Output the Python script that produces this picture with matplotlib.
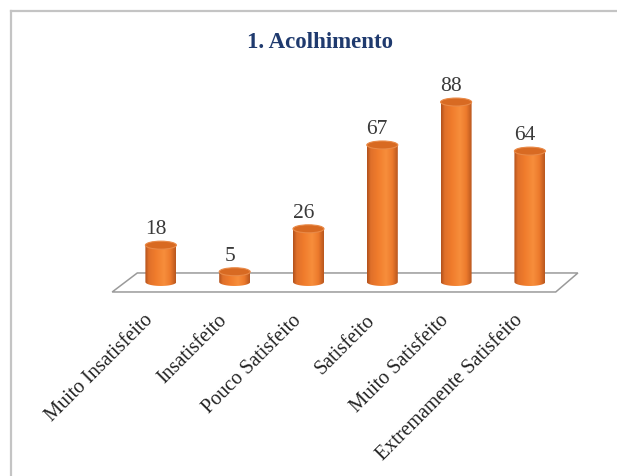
import numpy as np
import matplotlib
matplotlib.use("Agg")
import matplotlib.pyplot as plt
from matplotlib.patches import PathPatch, Ellipse, Polygon
from matplotlib.path import Path
from matplotlib.colors import LinearSegmentedColormap
from matplotlib.lines import Line2D

# --- data -------------------------------------------------------------
title = "1. Acolhimento"
categories = ["Muito Insatisfeito", "Insatisfeito", "Pouco Satisfeito",
              "Satisfeito", "Muito Satisfeito", "Extremamente Satisfeito"]
values = [18, 5, 26, 67, 88, 64]

# --- figure -----------------------------------------------------------
W, H, DPI = 617, 477, 100
fig = plt.figure(figsize=(W / DPI, H / DPI), dpi=DPI, facecolor="white")
serif = ["Liberation Serif", "DejaVu Serif"]

# axes fill the figure; limits set the spacing of the cylinders
ax = fig.add_axes([0, 0, 1, 1])
ax.set_xlim(-2.18, 6.18)
ax.set_ylim(-94.9, 138.4)
ax.axis("off")

px_y = (138.4 + 94.9) / H          # data units per pixel (vertical)
bar_w = 0.42                        # cylinder diameter in category units
cap_h = 8 * px_y                    # ellipse height of the cylinder ends

# floor of the 3-D plot area
n = len(categories)
floor = Polygon([(-0.32, 4.4), (n - 1 + 0.65, 4.4),
                 (n - 1 + 0.35, -4.9), (-0.66, -4.9)],
                closed=True, facecolor="white", edgecolor="#9a9a9a",
                linewidth=1.1, zorder=1)
ax.add_patch(floor)

# horizontal shading across each cylinder body
body_cmap = LinearSegmentedColormap.from_list(
    "body", [(0.0, "#b0501c"), (0.12, "#e0702a"), (0.35, "#f07c2c"),
             (0.62, "#f78e3c"), (0.82, "#ec7a2c"), (1.0, "#b8561e")])
grad = np.linspace(0, 1, 256)[None, :]

for i, v in enumerate(values):
    x0, x1 = i - bar_w / 2, i + bar_w / 2
    t = np.linspace(np.pi, 2 * np.pi, 60)
    bottom = np.column_stack([i + bar_w / 2 * np.cos(t),
                              cap_h / 2 * np.sin(t)])
    verts = np.vstack([[x0, v], bottom, [x1, v], [x0, v]])
    codes = [Path.MOVETO] + [Path.LINETO] * (len(verts) - 2) + [Path.CLOSEPOLY]
    body = PathPatch(Path(verts, codes), facecolor="none", edgecolor="none",
                     zorder=2)
    ax.add_patch(body)
    im = ax.imshow(grad, cmap=body_cmap, aspect="auto",
                   extent=[x0, x1, -cap_h, v], zorder=2,
                   interpolation="bilinear")
    im.set_clip_path(body)
    cap = Ellipse((i, v), bar_w, cap_h, facecolor="#d86a22",
                  edgecolor="#e98a48", linewidth=0.8, zorder=3)
    ax.add_patch(cap)
    ax.annotate(str(v), (i, v + cap_h / 2), xytext=(-5, 8),
                textcoords="offset pixels", ha="center", va="baseline",
                fontsize=15.5, family=serif, color="#3a3a3a", zorder=4)

# rotated category labels under the floor
for i, name in enumerate(categories):
    ax.annotate(name, (i, 0), xytext=(-17, -28), textcoords="offset pixels",
                ha="right", va="top", rotation=45, rotation_mode="anchor",
                fontsize=14.5, family=serif, color="#222222")

fig.text(320 / W, 1 - 42 / H, title, ha="center", va="center",
         fontsize=16.5, fontweight="bold", family=serif, color="#1f3a6e")

# chart-area frame (top and left edges)
frame_kw = dict(color="#c4c4c4", linewidth=1.6, transform=None)
fig.add_artist(Line2D([11, W], [H - 12, H - 12], **frame_kw))
fig.add_artist(Line2D([11, 11], [0, H - 12], **frame_kw))

fig.savefig("out.png", dpi=DPI, facecolor="white")
